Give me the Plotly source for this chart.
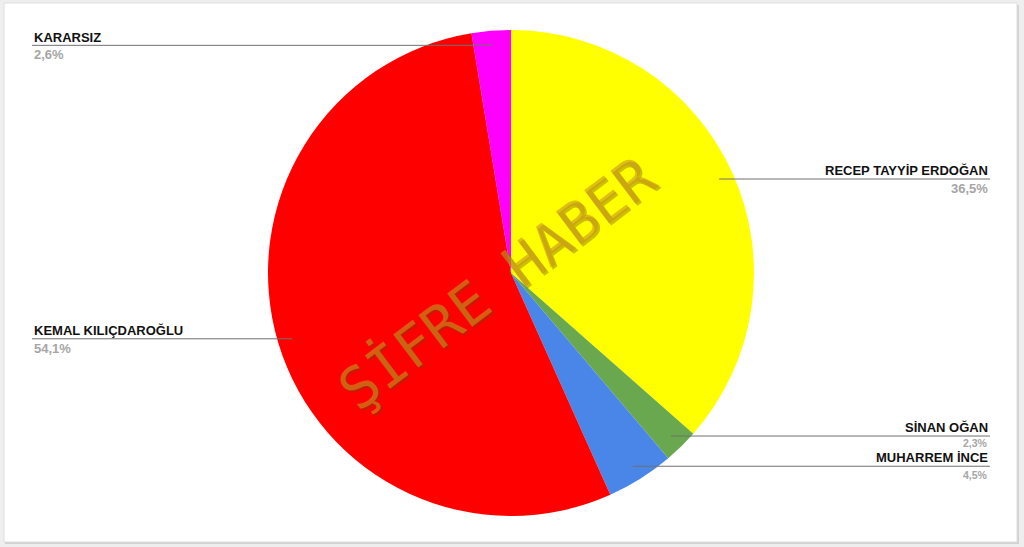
import math
import plotly.graph_objects as go

# ---- data ----
names = ["RECEP TAYYİP ERDOĞAN", "SİNAN OĞAN", "MUHARREM İNCE", "KEMAL KILIÇDAROĞLU", "KARARSIZ"]
values = [36.5, 2.3, 4.5, 54.1, 2.6]
pct_labels = ["36,5%", "2,3%", "4,5%", "54,1%", "2,6%"]
colors = ["#ffff00", "#6aa84f", "#4a86e8", "#ff0000", "#ff00ff"]
watermark = "ŞİFRE HABER"

# ---- style ----
W, H = 1024, 547
CX, CY, R = 511, 273, 243
LEFT_X, RIGHT_X = 32, 990
FONT = "Liberation Sans, Arial, sans-serif"
pct_sizes = [13, 10.5, 10.5, 13, 13]       # crowded labels are shrunk
pct_offsets = [9.5, 6.5, 9.0, 9.5, 9.5]

fig = go.Figure()

# background card
fig.add_shape(type="rect", xref="x", yref="y", x0=5, y0=5, x1=1019, y1=544,
              fillcolor="#d2d2d2", line=dict(width=0), layer="below")
fig.add_shape(type="rect", xref="x", yref="y", x0=4, y0=3, x1=1017, y1=542,
              fillcolor="#ffffff", line=dict(color="#dedede", width=1), layer="below")

fig.add_trace(go.Pie(
    labels=names, values=values, sort=False, direction="clockwise", rotation=0,
    marker=dict(colors=colors, line=dict(width=0)),
    textinfo="none", hoverinfo="label+percent", showlegend=False,
    domain=dict(x=[(CX - R) / W, (CX + R) / W], y=[1 - (CY + R) / H, 1 - (CY - R) / H]),
))

# labels with leader lines, positioned from slice mid angles
total = sum(values)
cum = 0.0
dot_x, dot_y = [], []
for i, (name, v, pl) in enumerate(zip(names, values, pct_labels)):
    mid = (cum + v / 2) / total * 2 * math.pi
    cum += v
    px = CX + 0.94 * R * math.sin(mid)
    py = CY - 0.94 * R * math.cos(mid)
    dot_x.append(px)
    dot_y.append(py)
    right = math.sin(mid) > 0
    if right:
        x0, x1, tx, anchor = px, RIGHT_X, RIGHT_X, "right"
    else:
        x0, x1, tx, anchor = LEFT_X, px, LEFT_X, "left"
    fig.add_shape(type="line", xref="x", yref="y", x0=x0, x1=x1, y0=py, y1=py,
                  line=dict(color="#707070", width=1), layer="above")
    fig.add_annotation(x=tx, y=py - 8.3, xref="x", yref="y", text="<b>" + name + "</b>",
                       showarrow=False, xanchor=anchor, yanchor="middle",
                       font=dict(family=FONT, size=13, color="#111111"))
    fig.add_annotation(x=tx, y=py + pct_offsets[i], xref="x", yref="y", text="<b>" + pl + "</b>",
                       showarrow=False, xanchor=anchor, yanchor="middle",
                       font=dict(family=FONT, size=pct_sizes[i], color="#a6a6a6"))

fig.add_trace(go.Scatter(x=dot_x, y=dot_y, mode="markers", hoverinfo="skip", showlegend=False,
                         marker=dict(size=4, color="rgba(160,160,160,0.85)")))

# watermark (with a faint shadow for an embossed look)
fig.add_annotation(x=499, y=285, xref="x", yref="y", text=watermark, showarrow=False,
                   textangle=-37, font=dict(family="DejaVu Sans Mono", size=57,
                                            color="rgba(110,70,0,0.35)"))
fig.add_annotation(x=497, y=283, xref="x", yref="y", text=watermark, showarrow=False,
                   textangle=-37, font=dict(family="DejaVu Sans Mono", size=57,
                                            color="rgba(200,150,30,0.6)"))

fig.update_layout(
    width=W, height=H, margin=dict(l=0, r=0, t=0, b=0),
    paper_bgcolor="#eeeeee", plot_bgcolor="rgba(0,0,0,0)",
    xaxis=dict(range=[0, W], visible=False, fixedrange=True),
    yaxis=dict(range=[H, 0], visible=False, fixedrange=True),
)

fig.write_html("out.html", config={"displayModeBar": False},
               post_script="document.body.style.margin='0';document.body.style.overflow='hidden';")
